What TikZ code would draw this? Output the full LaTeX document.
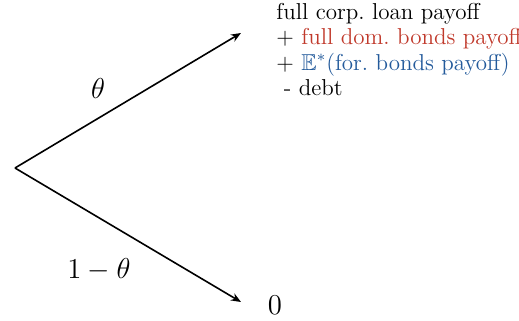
\documentclass[tikz,border=0pt]{standalone}
\usepackage{amssymb}
\usetikzlibrary{arrows.meta}
\definecolor{myred}{RGB}{192,57,43}
\definecolor{myblue}{RGB}{35,90,155}
\begin{document}
\begin{tikzpicture}[x=0.5pt,y=-0.5pt,
  branch/.style={line width=0.8pt,-{Stealth[length=5pt,width=4pt]}},
  lbl/.style={inner sep=0pt,font=\fontsize{13.6}{16}\selectfont}]
\useasboundingbox (0,0) rectangle (519,321);
\coordinate (root) at (15,168);
\coordinate (up) at (241,33);
\coordinate (down) at (241,302);
\draw[branch] (root) -- (up);
\draw[branch] (root) -- (down);
\node[lbl] (theta) at (98,88) {$\theta$};
\node[lbl] (onemtheta) at (99,270) {$1-\theta$};
\node[lbl] (zero) at (275,305) {$0$};
\node[inner sep=0pt,anchor=north west,align=left,font=\fontsize{11.5}{12.7}\selectfont] (payoff) at (276,3) {full corp.\ loan payoff\\
+ \textcolor{myred}{full dom.\ bonds payoff}\\
+ \textcolor{myblue}{$\mathbb{E}^*$(for.\ bonds payoff)}\\
\ - debt};
\end{tikzpicture}
\end{document}
